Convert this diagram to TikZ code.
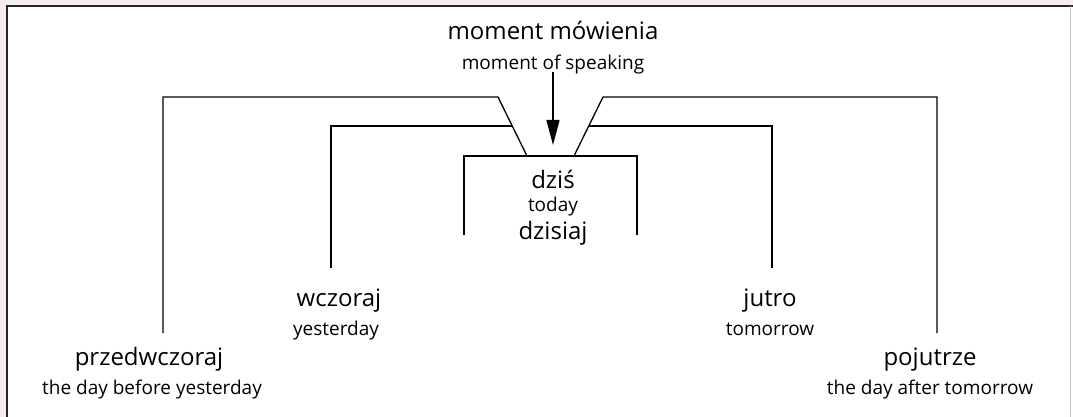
\documentclass[tikz,border=0pt]{standalone}
\usepackage{fontspec}
\setmainfont{Open Sans}
\usetikzlibrary{arrows.meta}

\begin{document}
\begin{tikzpicture}[x=1pt, y=-1pt,
		pl/.style = {anchor=base, inner sep=0pt, font=\fontsize{24}{28}\selectfont},
		en/.style = {anchor=base, inner sep=0pt, font=\fontsize{19}{23}\selectfont},
		bracket/.style = {line width=1.3pt, line join=miter}]
	\definecolor{framepink}{HTML}{F7ECF1}
	\definecolor{framedark}{HTML}{2A2426}
	\useasboundingbox (0,0) rectangle (1073,417);
	% pink margin and frame
	\fill[framepink] (0,0) rectangle (1073,6);
	\fill[framepink] (0,0) rectangle (7,417);
	\draw[framedark, line width=2pt] (7,417) -- (7,6) -- (1073,6);
	\draw[black!25, line width=0.6pt] (1070,6) -- (1070,417);
	% labels
	\node[pl] (mm)    at (553,40)  {moment mówienia};
	\node[en] (mos)   at (553,70)  {moment of speaking};
	\node[pl] (dzis)  at (553,188) {dziś};
	\node[en] (today) at (553,211) {today};
	\node[pl] (dzisiaj) at (553,239) {dzisiaj};
	\node[pl] (wcz)   at (339,306) {wczoraj};
	\node[en] (yest)  at (336,335) {yesterday};
	\node[pl] (jut)   at (770,306) {jutro};
	\node[en] (tom)   at (770,335) {tomorrow};
	\node[pl] (przed) at (149,365) {przedwczoraj};
	\node[en] (dbyes) at (152,394) {the day before yesterday};
	\node[pl] (poj)   at (930,365) {pojutrze};
	\node[en] (datom) at (930,394) {the day after tomorrow};
	% corner points of the brackets
	\coordinate (boxl) at (464,235);
	\coordinate (boxr) at (637,235);
	\coordinate (przedend) at (163,333);
	\coordinate (wczend) at (331,268);
	\coordinate (jutend) at (772,268);
	\coordinate (pojend) at (937,333);
	\coordinate (arrtop) at (553,72);
	\coordinate (arrtip) at (553,145);
	% today box
	\draw[bracket] (boxl) -- (464,156) -- (637,156) -- (boxr);
	% outer brackets
	\draw[bracket] (przedend) -- (163,97) -- (498,97) -- (527,156);
	\draw[bracket] (pojend) -- (937,97) -- (603,97) -- (574,156);
	% inner brackets
	\draw[bracket] (wczend) -- (331,126) -- (512,126);
	\draw[bracket] (jutend) -- (772,126) -- (589,126);
	% moment of speaking
	\draw[line width=1.3pt, -{Triangle[length=25pt, width=13pt]}] (arrtop) -- (arrtip);
\end{tikzpicture}
\end{document}
